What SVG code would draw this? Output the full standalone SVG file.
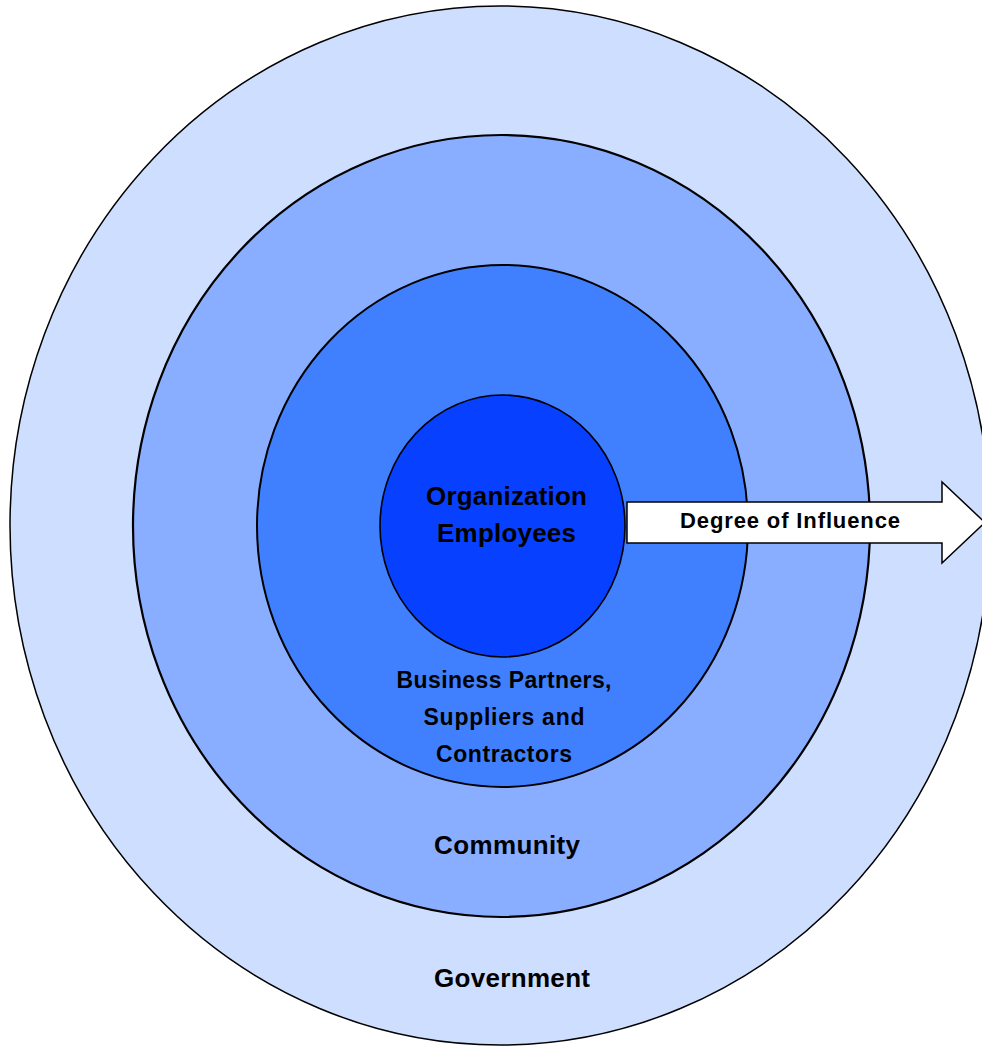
<svg xmlns="http://www.w3.org/2000/svg" width="982" height="1046" viewBox="0 0 982 1046">
<style>
.ring{stroke:#000;}
.t{font-family:"Liberation Sans",Arial,sans-serif;font-weight:bold;fill:#000;text-anchor:middle;}
</style>
<rect width="982" height="1046" fill="#fff"/>
<g id="government">
<ellipse class="ring" cx="500" cy="525.5" rx="490" ry="519.5" fill="#CEDEFF" stroke-width="1.5"/>
<text class="t" x="512" y="987" font-size="26" textLength="156" lengthAdjust="spacing">Government</text>
</g>
<g id="community">
<ellipse class="ring" cx="501.5" cy="526" rx="368.5" ry="391" fill="#8AAEFF" stroke-width="2.2"/>
<text class="t" x="507" y="854" font-size="26" textLength="146" lengthAdjust="spacing">Community</text>
</g>
<g id="partners">
<ellipse class="ring" cx="502.5" cy="526" rx="245.5" ry="261" fill="#4080FF" stroke-width="2"/>
<text class="t" x="504" y="688" font-size="23" textLength="215" lengthAdjust="spacing">Business Partners,</text>
<text class="t" x="504" y="725" font-size="23" textLength="161" lengthAdjust="spacing">Suppliers and</text>
<text class="t" x="504" y="762" font-size="23" textLength="136" lengthAdjust="spacing">Contractors</text>
</g>
<g id="employees">
<ellipse class="ring" cx="502.5" cy="526" rx="122.5" ry="131" fill="#0840FF" stroke-width="1.6"/>
<text class="t" x="506.5" y="505" font-size="26" textLength="161" lengthAdjust="spacing">Organization</text>
<text class="t" x="506.5" y="542" font-size="26" textLength="139" lengthAdjust="spacing">Employees</text>
</g>
<g id="connectors">
<g id="influence-arrow">
<polygon points="627,502 942,502 942,482 985,522.5 942,563 942,543 627,543" fill="#fff" stroke="#000" stroke-width="1.5"/>
<text class="t" x="790" y="528" font-size="22" textLength="220" lengthAdjust="spacing">Degree of Influence</text>
</g>
</g>
</svg>
